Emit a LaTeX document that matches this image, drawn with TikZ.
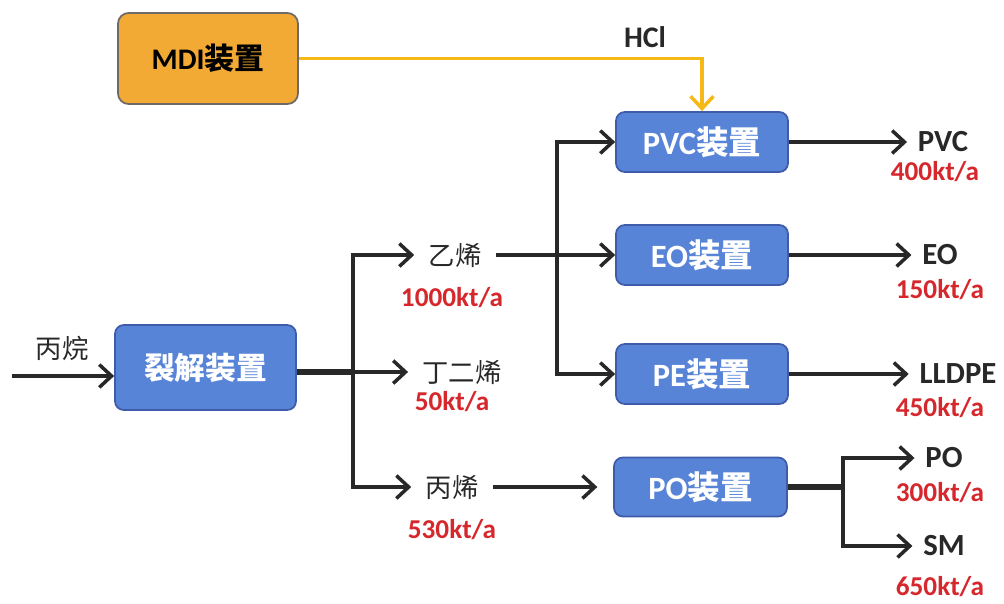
\documentclass[tikz,border=0pt]{standalone}
\usepackage{fontspec}
\setmainfont{Carlito}
\newfontfamily\cjk{Noto Sans CJK SC}
\usetikzlibrary{arrows.meta}
\definecolor{boxblue}{RGB}{88,132,216}
\definecolor{boxedge}{RGB}{62,92,170}
\definecolor{boxorange}{RGB}{242,170,52}
\definecolor{orangeedge}{RGB}{110,105,100}
\definecolor{hclline}{RGB}{246,184,20}
\definecolor{redtxt}{RGB}{214,40,44}
\definecolor{linec}{RGB}{40,40,40}
\tikzset{
  unit/.style={draw=boxedge, line width=1pt, fill=boxblue, rounded corners=5pt,
    text=white, font=\fontsize{18.5}{20}\selectfont\bfseries, inner sep=0pt},
  mdibox/.style={draw=orangeedge, line width=1pt, fill=boxorange, rounded corners=6pt,
    text=black, font=\fontsize{17}{20}\selectfont\bfseries, inner sep=0pt},
  midlbl/.style={font=\fontsize{15}{18}\selectfont\cjk, text=linec, inner sep=8pt},
  prod/.style={font=\fontsize{17.5}{20}\selectfont\bfseries, text=linec, inner sep=6pt},
  rate/.style={font=\fontsize{15.5}{18}\selectfont\bfseries, text=redtxt, inner sep=0pt},
  arr/.style={draw=linec, line width=2pt, -{Straight Barb[length=7pt,width=13pt,line width=2pt]}},
  thickline/.style={draw=linec, line width=3pt},
  hclarr/.style={draw=hclline, line width=2pt, -{Straight Barb[length=7pt,width=13pt,line width=2pt]}}
}
\begin{document}
\begin{tikzpicture}[x=0.02cm,y=-0.02cm]
\useasboundingbox (0,0) rectangle (1004,603);
% boxes
\node[mdibox, minimum width=3.6cm, minimum height=1.82cm] (mdi) at (208,58.5) {MDI{\cjk\bfseries 装置}};
\node[unit, minimum width=3.62cm, minimum height=1.7cm, font=\fontsize{17.5}{20}\selectfont\bfseries] (crack) at (205.5,367.5) {{\cjk\bfseries 裂解装置}};
\node[unit, minimum width=3.44cm, minimum height=1.2cm] (pvc) at (702,142) {PVC{\cjk\bfseries 装置}};
\node[unit, minimum width=3.44cm, minimum height=1.2cm] (eo) at (702,255) {EO{\cjk\bfseries 装置}};
\node[unit, minimum width=3.44cm, minimum height=1.2cm] (pe) at (702,374) {PE{\cjk\bfseries 装置}};
\node[unit, minimum width=3.46cm, minimum height=1.18cm] (po) at (700.5,487) {PO{\cjk\bfseries 装置}};
% intermediate labels
\node[midlbl] (eth) at (455,255) {乙烯};
\node[midlbl] (but) at (462,372) {丁二烯};
\node[midlbl] (pro) at (452,487) {丙烯};
\node[midlbl, inner sep=0pt] (feed) at (62,348) {丙烷};
% rates
\node[rate] (r1) at (452,298) {1000kt/a};
\node[rate] (r2) at (452,402) {50kt/a};
\node[rate] (r3) at (452,530) {530kt/a};
% products
\node[prod] (pvcp) at (943,142) {PVC};
\node[prod] (eop) at (940,255) {EO};
\node[prod] (lldpe) at (958,374) {LLDPE};
\node[prod] (pop) at (944,458) {PO};
\node[prod] (smp) at (944,546) {SM};
\node[rate] (r4) at (935,172) {400kt/a};
\node[rate] (r5) at (940,290) {150kt/a};
\node[rate] (r6) at (940,408) {450kt/a};
\node[rate] (r7) at (940,493) {300kt/a};
\node[rate] (r8) at (940,587) {650kt/a};
% HCl
\node[font=\fontsize{17}{20}\selectfont\bfseries, text=linec] (hcl) at (645,37) {HCl};
\draw[hclarr] (mdi.east) -| (pvc.north);
% feed
\coordinate (fstart) at (12,376);
\draw[arr] (fstart) -- (fstart -| crack.west);
% cracker outputs
\coordinate (j1) at (353,372);
\draw[thickline] (crack.east |- j1) -- (j1);
\draw[arr] (j1) |- (eth.west);
\draw[arr] (j1) -- (but.west);
\draw[arr] (j1) |- (pro.west);
% ethylene to units
\coordinate (j2) at (557,255);
\draw[arr] (eth.east) -- (eo.west);
\draw[arr] (j2) |- (pvc.west);
\draw[arr] (j2) |- (pe.west);
% propylene to PO
\draw[arr] (pro.east) -- ([xshift=-9pt]po.west);
% products
\draw[arr] (pvc.east) -- (pvcp.west);
\draw[arr] (eo.east) -- (eop.west);
\draw[arr] (pe.east) -- (lldpe.west);
\coordinate (j3) at (843,487);
\draw[thickline] (po.east) -- (j3);
\draw[arr] (j3) |- (pop.west);
\draw[arr] (j3) |- (smp.west);
\end{tikzpicture}
\end{document}
